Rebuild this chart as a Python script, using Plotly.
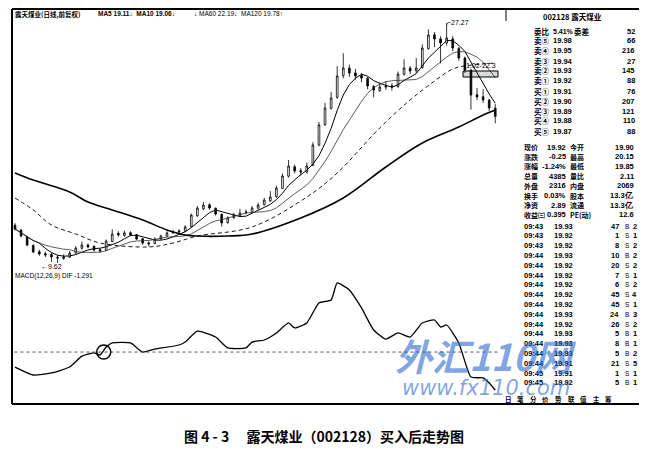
import numpy as np
import pandas as pd
import plotly.graph_objects as go

W, H = 647, 450
OFF = 8            # the page body adds an 8px margin; the figure fills the rest
FW, FH = W - OFF, H - OFF
TXT = "Noto Sans CJK SC"
NUM = "Liberation Sans Narrow, Liberation Sans"

# ---- daily bars (前复权) ----
closes = [12.12, 11.60, 10.94, 10.43, 10.28, 10.21, 10.06, 9.99, 10.06, 10.35,
          10.72, 10.94, 10.80, 10.57, 10.50, 11.24, 11.75, 11.68, 11.83, 11.68,
          11.38, 11.09, 11.02, 11.38, 11.60, 11.83, 11.90, 11.97, 12.27, 13.15,
          13.66, 13.88, 13.66, 13.22, 12.56, 12.93, 13.15, 13.30, 13.37, 13.66,
          13.88, 14.25, 14.47, 15.13, 16.02, 16.75, 16.38, 16.31, 16.75, 18.30,
          19.77, 21.02, 21.75, 23.37, 23.96, 23.59, 23.37, 23.22, 22.64, 22.34,
          22.56, 22.64, 22.56, 23.52, 23.96, 23.74, 23.96, 25.43, 26.39, 26.09,
          25.80, 26.17, 25.43, 24.69, 23.81, 21.97, 21.83, 21.61, 21.02, 20.40]
opens = [12.40, 12.05, 11.55, 10.90, 10.45, 10.30, 10.25, 10.05, 9.95, 10.05,
         10.35, 10.70, 10.95, 10.85, 10.60, 10.55, 11.20, 11.80, 11.65, 11.85,
         11.70, 11.40, 11.10, 11.05, 11.40, 11.60, 11.85, 11.90, 11.95, 12.30,
         13.10, 13.60, 13.90, 13.65, 13.20, 12.60, 12.95, 13.10, 13.35, 13.35,
         13.65, 13.90, 14.20, 14.50, 15.10, 16.00, 16.70, 16.40, 16.30, 16.80,
         18.30, 19.80, 21.00, 21.80, 23.40, 23.95, 23.60, 23.40, 23.20, 22.60,
         22.30, 22.55, 22.65, 22.60, 23.50, 23.95, 23.75, 24.00, 25.40, 26.40,
         26.10, 25.80, 26.10, 25.40, 24.70, 23.80, 22.00, 21.85, 21.60, 21.00]
highs = [12.55, 12.10, 11.60, 11.00, 10.60, 10.45, 10.35, 10.20, 10.25, 10.50,
         10.85, 11.20, 11.05, 10.90, 10.70, 11.35, 12.10, 11.95, 12.00, 11.95,
         11.75, 11.45, 11.20, 11.50, 11.70, 11.95, 12.05, 12.10, 12.40, 13.25,
         13.80, 14.10, 14.00, 13.70, 13.25, 13.05, 13.30, 13.60, 13.55, 13.80,
         14.05, 14.40, 14.90, 15.30, 16.20, 17.20, 16.85, 16.60, 17.00, 18.50,
         20.00, 21.40, 22.20, 24.10, 25.05, 24.20, 23.90, 23.60, 23.30, 22.70,
         22.90, 23.00, 22.85, 23.70, 24.60, 24.10, 24.70, 25.70, 26.80, 26.60,
         26.30, 27.27, 26.30, 25.50, 24.80, 23.90, 22.50, 22.40, 21.70, 21.30]
lows = [12.00, 11.50, 10.85, 10.35, 10.15, 10.05, 9.70, 9.62, 9.85, 10.00,
        10.30, 10.60, 10.70, 10.45, 10.35, 10.50, 11.15, 11.55, 11.55, 11.60,
        11.30, 10.95, 10.85, 11.00, 11.30, 11.55, 11.75, 11.80, 11.90, 12.25,
        13.00, 13.50, 13.55, 13.10, 12.30, 12.50, 12.85, 13.00, 13.20, 13.30,
        13.55, 13.85, 14.10, 14.40, 15.05, 15.90, 16.20, 16.05, 16.20, 16.75,
        18.20, 19.70, 20.90, 21.70, 23.20, 23.30, 23.10, 22.90, 22.40, 21.80,
        22.20, 22.35, 22.30, 22.50, 23.40, 23.50, 23.60, 23.90, 25.30, 25.50,
        24.30, 25.60, 25.20, 24.50, 23.60, 20.90, 21.60, 21.40, 20.80, 19.90]

# long moving averages (their history starts before the visible window)
ma60_bar = [0, 3, 6, 10, 14, 22, 26, 30, 39, 48, 53, 60, 65, 69, 72, 74, 79]
ma60 = [14.40, 13.52, 12.41, 11.75, 11.09, 10.80, 11.09, 11.60, 12.27, 14.47,
        16.24, 19.55, 21.61, 23.00, 23.89, 24.11, 24.33]
ma120_bar = [0, 3, 9, 12, 16, 21, 25, 28, 30, 35, 39, 47, 54, 61, 67, 73, 77, 79]
ma120 = [16.24, 15.72, 14.84, 14.10, 13.52, 12.78, 12.05, 11.68, 11.60, 11.60,
         11.75, 12.93, 14.40, 16.68, 18.44, 19.62, 20.50, 20.87]

# MACD DIF
macd_bar = [0, 3, 6, 9, 11, 13, 14, 15, 16, 19, 21, 23, 27, 28, 30, 33, 35, 38, 39, 41,
            43, 45, 46, 48, 50, 52, 53, 55, 57, 59, 61, 63, 65, 67, 69, 70, 71, 73, 75, 77,
            78, 79]
dif = [-0.51, -0.78, -0.71, -0.51, -0.14, -0.03, -0.10, 0.17, 0.31, 0.31,
       0.00, 0.10, 0.24, 0.34, 0.71, 0.51, 0.14, 0.14, 0.34, 0.41,
       0.65, 0.99, 0.82, 0.99, 1.67, 1.77, 2.35, 2.11, 1.50, 0.75,
       0.44, 0.65, 0.51, 0.99, 1.09, 0.85, 0.92, 0.31, -0.85, -0.88,
       -1.05, -1.29]
cross_bar = 14.6  # golden cross circled in the book

# ---- quote panel ----
book_labels = ["委比", "卖⑤", "卖④", "卖③", "卖②", "卖①", "买①", "买②", "买③", "买④", "买⑤"]
book_prices = ["5.41%", "19.98", "19.95", "19.94", "19.93", "19.92",
               "19.91", "19.90", "19.89", "19.88", "19.87"]
book_vols = ["52", "66", "216", "27", "145", "88", "76", "207", "121", "110", "88"]

stat_l1 = ["现价", "涨跌", "涨幅", "总量", "外盘", "换手", "净资", "收益㈢"]
stat_v1 = ["19.92", "-0.25", "-1.24%", "4385", "2316", "0.03%", "2.89", "0.395"]
stat_l2 = ["今开", "最高", "最低", "量比", "内盘", "股本", "流通", "PE(动)"]
stat_v2 = ["19.90", "20.15", "19.85", "2.11", "2069", "13.3亿", "13.3亿", "12.6"]

tick_time = ["09:43"] * 3 + ["09:44"] * 12 + ["09:45"] * 2
tick_price = ["19.93", "19.92", "19.92", "19.93", "19.92", "19.92", "19.92", "19.92", "19.92",
              "19.93", "19.92", "19.93", "19.93", "19.93", "19.91", "19.91", "19.92"]
tick_vol = ["47", "1", "8", "10", "20", "7", "6", "45", "45", "24", "26", "5", "8", "5", "21", "1", "5"]
tick_side = ["B", "S", "S", "B", "S", "S", "S", "S", "S", "B", "S", "B", "B", "B", "S", "S", "B"]
tick_num = ["2", "1", "2", "2", "2", "1", "2", "4", "1", "3", "2", "1", "1", "2", "5", "1", "1"]

tabs = ["日", "笔", "分", "价", "势", "联", "值", "主", "筹"]

bars = np.arange(len(closes))
ma5 = pd.Series(closes).rolling(5, min_periods=1).mean()
ma10 = pd.Series(closes).rolling(10, min_periods=1).mean()


def px(x):
    return (x - OFF) / FW


def py(y):
    return 1 - (y - OFF) / FH


fig = go.Figure()

fig.add_trace(go.Candlestick(
    x=bars, open=opens, high=highs, low=lows, close=closes,
    increasing=dict(line=dict(color="black", width=0.8), fillcolor="white"),
    decreasing=dict(line=dict(color="black", width=0.8), fillcolor="black"),
    whiskerwidth=0, showlegend=False, hoverinfo="skip", xaxis="x", yaxis="y"))
fig.add_trace(go.Scatter(x=bars, y=ma5, mode="lines", line=dict(color="black", width=1),
                         showlegend=False, xaxis="x", yaxis="y"))
fig.add_trace(go.Scatter(x=bars, y=ma10, mode="lines", line=dict(color="#333", width=0.8),
                         showlegend=False, xaxis="x", yaxis="y"))
fig.add_trace(go.Scatter(x=ma60_bar, y=ma60, mode="lines", line_shape="spline",
                         line=dict(color="black", width=0.9, dash="4px,3px"),
                         showlegend=False, xaxis="x", yaxis="y"))
fig.add_trace(go.Scatter(x=ma120_bar, y=ma120, mode="lines", line_shape="spline",
                         line=dict(color="black", width=1.6),
                         showlegend=False, xaxis="x", yaxis="y"))

fig.add_trace(go.Scatter(x=macd_bar, y=dif, mode="lines", line_shape="spline",
                         line=dict(color="black", width=1.3, smoothing=0.5),
                         showlegend=False, xaxis="x2", yaxis="y2"))

xr = [-0.49, 80.6]
fig.update_layout(
    width=FW, height=FH, margin=dict(l=0, r=0, t=0, b=0),
    paper_bgcolor="white", plot_bgcolor="white", showlegend=False,
    boxgap=0.6,
    xaxis=dict(domain=[px(12), px(505)], range=xr, visible=False,
               rangeslider=dict(visible=False), fixedrange=True),
    yaxis=dict(domain=[py(268), py(9)], range=[9.25, 28.30], visible=False),
    xaxis2=dict(domain=[px(12), px(505)], range=xr, visible=False, anchor="y2"),
    yaxis2=dict(domain=[py(400), py(280)], range=[-1.63, 2.45], visible=False, anchor="x2"),
)

# frame
frame = dict(color="black", width=2)
fig.add_shape(type="line", xref="paper", yref="paper", x0=px(12), x1=px(641), y0=py(9), y1=py(9), line=frame)
fig.add_shape(type="line", xref="paper", yref="paper", x0=px(12), x1=px(641), y0=py(404), y1=py(404), line=frame)
fig.add_shape(type="line", xref="paper", yref="paper", x0=px(12), x1=px(12), y0=py(9), y1=py(404), line=frame)
fig.add_shape(type="line", xref="paper", yref="paper", x0=px(641), x1=px(641), y0=py(9), y1=py(404), line=frame)
fig.add_shape(type="line", xref="paper", yref="paper", x0=px(506), x1=px(506), y0=py(9), y1=py(21),
              line=dict(color="black", width=1))

# MACD zero line and circled cross
fig.add_shape(type="line", xref="x2 domain", yref="y2", x0=0.005, x1=0.99, y0=0, y1=0,
              line=dict(color="#555", width=1, dash="dot"))
fig.add_shape(type="circle", xref="x2", yref="y2", x0=cross_bar - 1.15, x1=cross_bar + 1.15,
              y0=-0.24, y1=0.24, line=dict(color="black", width=1.5))

# gap zone marker
fig.add_shape(type="rect", xref="paper", yref="paper", x0=px(463), x1=px(498), y0=py(77), y1=py(71),
              line=dict(color="black", width=1), fillcolor="rgba(0,0,0,0.15)")


def label(x, y, text, size=7.5, anchor="left", bold=True, color="black", family=TXT):
    fig.add_annotation(x=px(x), y=py(y), xref="paper", yref="paper",
                       text=f"<b>{text}</b>" if bold else text, showarrow=False,
                       xanchor=anchor, yanchor="middle", borderpad=0,
                       font=dict(family=family, size=size, color=color))


# header line of the kline window
label(14, 14, "露天煤业(日线,前复权)", size=6.5)
label(97, 14, "MA5 19.11↓  MA10 19.06↓", size=6.5, family=NUM)
label(193, 14, "↓ MA60 22.19↓  MA120 19.78↑", size=6.5, bold=False, family=NUM)
label(14, 276, "MACD(12,26,9) DIF -1.291", size=6.5, bold=False, family=NUM)

# price marks
fig.add_annotation(x=71, y=27.27, xref="x", yref="y", text="⌐27.27", showarrow=False,
                   xanchor="left", yanchor="middle", xshift=-2,
                   font=dict(family=NUM, size=7, color="black"))
fig.add_annotation(x=6, y=9.62, xref="x", yref="y", text="←9.62", showarrow=False,
                   xanchor="center", yanchor="middle", yshift=-4,
                   font=dict(family=NUM, size=7, color="black"))
label(481, 66, "1.02-22.3", size=7, anchor="center", bold=False, family=NUM)

# quote panel
label(572, 16, "002128 露天煤业", size=7.5, anchor="center")
for k, lab in enumerate(book_labels):
    y = 31 + 10 * k
    label(533, y, lab, size=7.5)
    label(552, y, book_prices[k], size=7 if k == 0 else 7.5, family=NUM)
    label(636, y, book_vols[k], size=7.5, anchor="right", family=NUM)
label(573, 31, "委差", size=7.5)

for k in range(len(stat_l1)):
    y = 147 + 9.7 * k
    label(523, y, stat_l1[k], size=7)
    label(567, y, stat_v1[k], size=7.5, anchor="right", family=NUM)
    label(569, y, stat_l2[k], size=7)
    label(635, y, stat_v2[k], size=7.5, anchor="right", family=NUM)

for k in range(len(tick_time)):
    y = 226 + 9.8 * k
    label(523, y, tick_time[k], size=7.5, family=NUM)
    label(553, y, tick_price[k], size=7.5, family=NUM)
    label(620, y, tick_vol[k], size=7.5, anchor="right", family=NUM)
    label(627, y, tick_side[k], size=6.5, anchor="center", bold=False, family=NUM)
    label(638, y, tick_num[k], size=7.5, anchor="right", family=NUM)

for k, t in enumerate(tabs):
    label(508 + 12.6 * k, 399, t, size=6.5, anchor="center")

# site watermark of the scan
fig.add_annotation(x=px(485), y=py(355), xref="paper", yref="paper", text="<b><i>外汇110网</i></b>",
                   showarrow=False, xanchor="center", yanchor="middle",
                   font=dict(family=TXT, size=37, color="rgba(45,105,205,0.6)"))
fig.add_annotation(x=px(486), y=py(388), xref="paper", yref="paper", text="<i>www.fx110.com</i>",
                   showarrow=False, xanchor="center", yanchor="middle",
                   font=dict(family="DejaVu Sans", size=21, color="rgba(45,105,205,0.6)"))

# caption
fig.add_annotation(x=px(324), y=py(436), xref="paper", yref="paper",
                   text="<b>图 4 - 3　 露天煤业（002128）买入后走势图</b>", showarrow=False,
                   xanchor="center", yanchor="middle",
                   font=dict(family=TXT, size=14, color="black"))

fig.write_html("out.html")
